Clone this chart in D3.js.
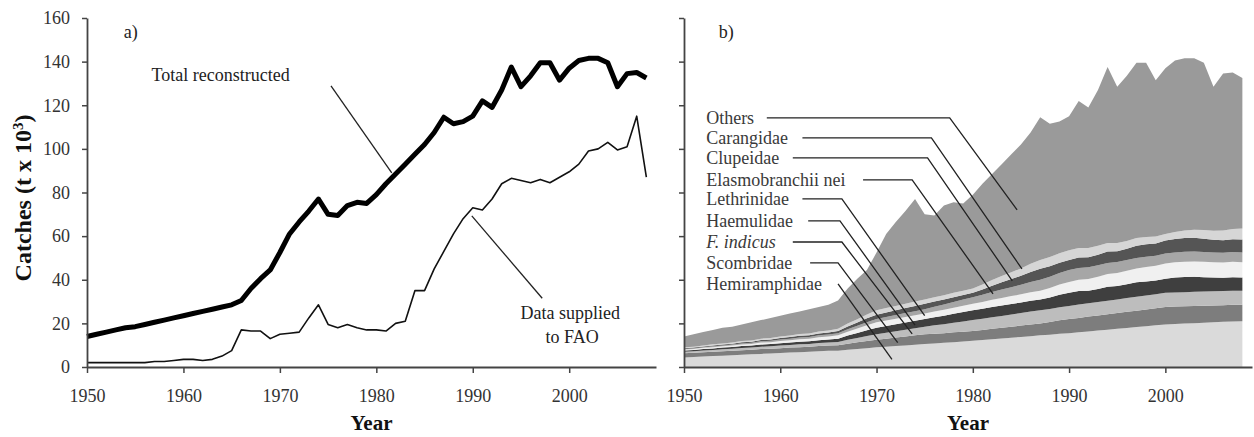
<!DOCTYPE html>
<html>
<head>
<meta charset="utf-8">
<script src="https://cdn.jsdelivr.net/npm/d3@7"></script>
<style>
  body { margin: 0; background: #fff; }
  svg { display: block; }
  svg text { font-family: "Liberation Serif", "Times New Roman", serif; }
</style>
</head>
<body>
<svg width="1254" height="437"></svg>
<script>
// ---- data (t x 10^3) ----
const years = [1950, 1951, 1952, 1953, 1954, 1955, 1956, 1957, 1958, 1959,
  1960, 1961, 1962, 1963, 1964, 1965, 1966, 1967, 1968, 1969,
  1970, 1971, 1972, 1973, 1974, 1975, 1976, 1977, 1978, 1979,
  1980, 1981, 1982, 1983, 1984, 1985, 1986, 1987, 1988, 1989,
  1990, 1991, 1992, 1993, 1994, 1995, 1996, 1997, 1998, 1999,
  2000, 2001, 2002, 2003, 2004, 2005, 2006, 2007, 2008];

const totalReconstructed = [14, 15, 16, 17, 18, 18.5, 19.5, 20.5, 21.5, 22.5,
  23.5, 24.5, 25.5, 26.5, 27.5, 28.5, 30.5, 36, 40.5, 44.5,
  52.5, 61, 66.5, 71.5, 77, 70, 69.5, 74, 75.5, 75,
  79, 84, 88.5, 93, 97.5, 102, 107.5, 114.5, 111.5, 112.5,
  115, 122, 119, 127, 137.5, 128.5, 133.5, 139.5, 139.5, 131.5,
  137, 140.5, 141.5, 141.5, 139.5, 128.5, 134.5, 135, 132.5];

const suppliedToFAO = [2, 2, 2, 2, 2, 2, 2, 2.5, 2.5, 3,
  3.5, 3.5, 3, 3.5, 5, 7.5, 17, 16.5, 16.5, 13,
  15, 15.5, 16, 22.5, 28.5, 19.5, 18, 19.5, 18, 17,
  17, 16.5, 20, 21, 35, 35, 45, 53, 61, 68,
  73, 72, 77, 84, 86.5, 85.5, 84.5, 86, 84.5, 87,
  89.5, 93, 99, 100, 103, 99.5, 101, 115, 87];

const hemiramphidae = [4.4, 4.6, 4.8, 5.0, 5.2, 5.4, 5.6, 5.8, 6.0, 6.2,
  6.4, 6.6, 6.8, 7.0, 7.2, 7.4, 7.5, 7.9, 8.3, 8.6,
  9.0, 9.3, 9.6, 9.9, 10.2, 10.5, 10.8, 11.1, 11.4, 11.7,
  12.0, 12.4, 12.7, 13.1, 13.4, 13.8, 14.1, 14.5, 14.8, 15.2,
  15.5, 15.9, 16.3, 16.7, 17.1, 17.5, 17.9, 18.3, 18.7, 19.1,
  19.5, 19.7, 19.9, 20.1, 20.3, 20.5, 20.7, 20.9, 21.0];
const scombridae = [1.9, 1.9, 2.0, 2.0, 2.0, 2.1, 2.1, 2.1, 2.2, 2.2,
  2.2, 2.3, 2.3, 2.3, 2.4, 2.4, 2.5, 2.8, 3.0, 3.3,
  3.5, 3.7, 3.9, 4.1, 4.3, 4.5, 4.5, 4.4, 4.5, 4.5,
  4.5, 4.6, 4.8, 4.9, 5.1, 5.2, 5.4, 5.5, 5.8, 6.2,
  6.5, 6.6, 6.8, 6.9, 7.1, 7.2, 7.4, 7.5, 7.7, 7.8,
  8.0, 8.0, 7.9, 7.9, 7.8, 7.7, 7.6, 7.6, 7.5];
const fIndicus = [0.7, 0.7, 0.8, 0.8, 0.9, 0.9, 1.0, 1.0, 1.1, 1.1,
  1.2, 1.2, 1.3, 1.3, 1.4, 1.4, 1.5, 1.8, 2.0, 2.3,
  2.5, 2.7, 2.9, 3.1, 3.3, 3.5, 3.8, 4.1, 4.4, 4.7,
  5.0, 5.1, 5.3, 5.4, 5.6, 5.7, 5.9, 6.0, 6.0, 6.0,
  6.0, 6.1, 6.1, 6.2, 6.2, 6.3, 6.3, 6.4, 6.4, 6.5,
  6.5, 6.5, 6.5, 6.5, 6.5, 6.5, 6.5, 6.5, 6.5];
const haemulidae = [0.6, 0.6, 0.7, 0.7, 0.8, 0.8, 0.9, 0.9, 1.0, 1.0,
  1.1, 1.1, 1.2, 1.2, 1.3, 1.4, 1.5, 1.9, 2.3, 2.6,
  3.0, 3.1, 3.2, 3.3, 3.4, 3.5, 3.7, 3.9, 4.1, 4.3,
  4.5, 4.6, 4.7, 4.8, 4.8, 4.9, 5.0, 5.0, 5.3, 5.7,
  6.0, 6.2, 5.8, 6.0, 6.4, 6.1, 6.3, 6.6, 6.4, 6.2,
  6.5, 6.8, 7.0, 6.9, 6.6, 6.3, 6.1, 6.2, 6.0];
const lethrinidae = [0.4, 0.5, 0.5, 0.6, 0.6, 0.7, 0.7, 0.8, 0.9, 0.9,
  1.0, 1.1, 1.1, 1.2, 1.3, 1.4, 1.5, 1.8, 2.0, 2.3,
  2.5, 2.5, 2.5, 2.5, 2.5, 2.5, 2.6, 2.7, 2.8, 2.9,
  3.0, 3.1, 3.3, 3.4, 3.6, 3.7, 3.9, 4.0, 4.3, 4.7,
  5.0, 5.2, 5.4, 5.6, 5.8, 6.0, 6.2, 6.4, 6.6, 6.8,
  7.0, 7.0, 7.0, 7.0, 7.0, 7.0, 7.0, 7.0, 7.0];
const elasmobranchii = [0.3, 0.3, 0.3, 0.4, 0.4, 0.4, 0.5, 0.5, 0.6, 0.6,
  0.7, 0.7, 0.8, 0.8, 0.9, 0.9, 1.0, 1.1, 1.3, 1.4,
  1.5, 1.6, 1.7, 1.8, 1.9, 2.0, 2.2, 2.4, 2.6, 2.8,
  3.0, 3.3, 3.6, 3.9, 4.1, 4.4, 4.7, 5.0, 5.2, 5.3,
  5.5, 5.4, 5.3, 5.2, 5.1, 5.0, 4.9, 4.8, 4.7, 4.6,
  4.5, 4.5, 4.5, 4.5, 4.5, 4.5, 4.5, 4.5, 4.5];
const clupeidae = [0.3, 0.3, 0.3, 0.4, 0.4, 0.4, 0.5, 0.5, 0.6, 0.6,
  0.7, 0.7, 0.8, 0.8, 0.9, 0.9, 1.0, 1.3, 1.5, 1.8,
  2.0, 2.1, 2.2, 2.3, 2.4, 2.5, 2.4, 2.3, 2.2, 2.1,
  2.0, 2.4, 2.9, 3.3, 3.7, 4.1, 4.6, 5.0, 4.8, 4.7,
  4.5, 4.8, 4.6, 4.9, 5.3, 5.0, 5.2, 5.6, 5.8, 5.6,
  6.0, 6.2, 6.3, 6.3, 6.1, 5.8, 5.7, 5.9, 6.0];
const carangidae = [0.4, 0.4, 0.4, 0.5, 0.5, 0.5, 0.6, 0.6, 0.6, 0.7,
  0.7, 0.7, 0.8, 0.8, 0.9, 0.9, 1.0, 1.3, 1.5, 1.8,
  2.0, 2.0, 2.0, 2.0, 2.0, 2.0, 2.0, 2.0, 2.0, 2.0,
  2.0, 2.3, 2.6, 2.9, 3.1, 3.4, 3.7, 4.0, 4.2, 4.3,
  4.5, 4.4, 4.2, 4.1, 3.9, 3.8, 3.6, 3.5, 3.3, 3.2,
  3.0, 3.2, 3.5, 3.7, 4.0, 4.2, 4.5, 4.7, 5.0];
const others = [5.0, 5.7, 6.2, 6.6, 7.2, 7.3, 7.6, 8.3, 8.5, 9.2,
  9.5, 10.1, 10.4, 11.1, 11.2, 11.8, 13.0, 16.1, 18.6, 20.4,
  26.5, 34.0, 38.5, 42.5, 47.0, 39.0, 37.5, 41.1, 41.5, 40.0,
  43.0, 46.2, 48.6, 51.3, 54.1, 56.8, 60.2, 65.5, 61.1, 60.4,
  61.5, 67.4, 64.5, 71.4, 80.6, 71.6, 75.7, 80.4, 79.9, 71.7,
  76.0, 78.6, 78.9, 78.6, 76.7, 66.0, 71.9, 71.7, 69.0];

const speciesKeys = ["Hemiramphidae", "Scombridae", "F. indicus", "Haemulidae",
  "Lethrinidae", "Elasmobranchii nei", "Clupeidae", "Carangidae", "Others"];
const speciesSeries = [hemiramphidae, scombridae, fIndicus, haemulidae,
  lethrinidae, elasmobranchii, clupeidae, carangidae, others];
const speciesColors = ["#dadada", "#7d7d7d", "#bdbdbd", "#3f3f3f",
  "#f0f0f0", "#a6a6a6", "#555555", "#d6d6d6", "#9a9a9a"];

const xTicks = [1950, 1960, 1970, 1980, 1990, 2000];
const yTicks = [0, 20, 40, 60, 80, 100, 120, 140, 160];

// label anchor (year, value), leader: start year, corner year, end (year, value)
const legendLabels = [
  { name: "Others", y: 114.2, x0: 1958.6, x1: 1977.6, ex: 1984.6, ev: 72 },
  { name: "Carangidae", y: 105, x0: 1962.3, x1: 1975.7, ex: 1985.1, ev: 45 },
  { name: "Clupeidae", y: 95.9, x0: 1961.3, x1: 1975.3, ex: 1984.1, ev: 39.5 },
  { name: "Elasmobranchii nei", y: 85.8, x0: 1968.6, x1: 1973.7, ex: 1982.1, ev: 33.5 },
  { name: "Lethrinidae", y: 77.1, x0: 1962.3, x1: 1966.4, ex: 1975, ev: 23.5 },
  { name: "Haemulidae", y: 67, x0: 1962.9, x1: 1966.2, ex: 1974, ev: 19.2 },
  { name: "F. indicus", y: 57.3, x0: 1961.3, x1: 1966.4, ex: 1973.7, ev: 15.2 },
  { name: "Scombridae", y: 47.7, x0: 1963.1, x1: 1966, ex: 1972.2, ev: 11.2 },
  { name: "Hemiramphidae", y: 38.1, x0: 1966, x1: 1966, ex: 1971.6, ev: 3.5 }
];

// ---- layout ----
const svg = d3.select("svg");
const yScale = d3.scaleLinear().domain([0, 160]).range([367, 18]);
const xScaleA = d3.scaleLinear().domain([1950, 2009]).range([87, 656]);
const xScaleB = d3.scaleLinear().domain([1950, 2009]).range([684, 1252]);

/*************** panel a ***************/
const gA = svg.append("g");

const lineA = d3.line()
  .x((d, i) => xScaleA(years[i]))
  .y(d => yScale(d));

gA.append("path")
  .attr("d", lineA(suppliedToFAO))
  .attr("fill", "none")
  .attr("stroke", "#111")
  .attr("stroke-width", 1.6)
  .attr("stroke-linejoin", "round");

gA.append("path")
  .attr("d", lineA(totalReconstructed))
  .attr("fill", "none")
  .attr("stroke", "#000")
  .attr("stroke-width", 5)
  .attr("stroke-linejoin", "round");

drawAxes(gA, xScaleA, true);

// annotations
gA.append("text").attr("x", xScaleA(1953.8)).attr("y", yScale(151))
  .attr("font-size", 18).attr("fill", "#222").text("a)");
gA.append("text").attr("x", xScaleA(1956.7)).attr("y", yScale(131))
  .attr("font-size", 18).attr("fill", "#222").text("Total reconstructed");
addLeader(gA, [[xScaleA(1975.3), yScale(128.9)], [xScaleA(1981.6), yScale(89)]]);

gA.append("text").attr("x", xScaleA(2000.1)).attr("y", yScale(22))
  .attr("text-anchor", "middle").attr("font-size", 18).attr("fill", "#222")
  .text("Data supplied");
gA.append("text").attr("x", xScaleA(2000.3)).attr("y", yScale(10.8))
  .attr("text-anchor", "middle").attr("font-size", 18).attr("fill", "#222")
  .text("to FAO");
addLeader(gA, [[xScaleA(1989.9), yScale(69.3)], [xScaleA(1997.2), yScale(31.5)]]);

/*************** panel b ***************/
const gB = svg.append("g");

const rows = years.map((yr, i) => {
  const row = { year: yr };
  speciesKeys.forEach((k, j) => { row[k] = speciesSeries[j][i]; });
  return row;
});
const stacked = d3.stack().keys(speciesKeys)(rows);

const area = d3.area()
  .x(d => xScaleB(d.data.year))
  .y0(d => yScale(d[0]))
  .y1(d => yScale(d[1]));

gB.selectAll("path.layer")
  .data(stacked)
  .enter()
  .append("path")
  .attr("class", "layer")
  .attr("d", area)
  .attr("fill", (d, i) => speciesColors[i]);

drawAxes(gB, xScaleB, false);

gB.append("text").attr("x", xScaleB(1953.6)).attr("y", yScale(151))
  .attr("font-size", 18).attr("fill", "#222").text("b)");

// legend labels with leader lines
legendLabels.forEach(lab => {
  const t = gB.append("text")
    .attr("x", xScaleB(1952.3))
    .attr("y", yScale(lab.y))
    .attr("dy", "0.35em")
    .attr("font-size", 18)
    .attr("fill", "#3a3a3a")
    .text(lab.name);
  if (lab.name === "F. indicus") t.attr("font-style", "italic");
  addLeader(gB, [
    [xScaleB(lab.x0), yScale(lab.y)],
    [xScaleB(lab.x1), yScale(lab.y)],
    [xScaleB(lab.ex), yScale(lab.ev)]
  ]);
});

// y axis title
svg.append("text")
  .attr("transform", `translate(31, 198) rotate(-90)`)
  .attr("text-anchor", "middle")
  .attr("font-size", 24)
  .attr("font-weight", "bold")
  .attr("fill", "#111")
  .html('Catches (t x 10<tspan baseline-shift="super" font-size="15">3</tspan>)');

/********************************************************************/
// Reusable bits
/********************************************************************/
function drawAxes(g, xScale, withLabels) {
  const xAxis = d3.axisBottom(xScale)
    .tickValues(xTicks)
    .tickFormat(d3.format("d"))
    .tickSize(6)
    .tickSizeOuter(0);
  const yAxis = d3.axisLeft(yScale)
    .tickValues(yTicks)
    .tickSize(5)
    .tickSizeOuter(0)
    .tickFormat(withLabels ? d3.format("d") : "");

  const gx = g.append("g")
    .attr("transform", `translate(0, ${yScale(0)})`)
    .call(xAxis);
  const gy = g.append("g")
    .attr("transform", `translate(${xScale(1950)}, 0)`)
    .call(yAxis);

  [gx, gy].forEach(ax => {
    ax.attr("font-family", null);
    ax.select(".domain").attr("stroke", "#444").attr("stroke-width", 1.8);
    ax.selectAll(".tick line").attr("stroke", "#444").attr("stroke-width", 1.5);
    ax.selectAll(".tick text")
      .attr("font-size", 18)
      .attr("fill", "#333");
  });
  gx.selectAll(".tick text").attr("dy", "1.45em");
  gy.selectAll(".tick text").attr("x", -17);

  g.append("text")
    .attr("x", (xScale.range()[0] + xScale.range()[1]) / 2)
    .attr("y", 430)
    .attr("text-anchor", "middle")
    .attr("font-size", 21)
    .attr("font-weight", "bold")
    .attr("fill", "#111")
    .text("Year");
}

function addLeader(g, pts) {
  g.append("path")
    .attr("d", d3.line()(pts))
    .attr("fill", "none")
    .attr("stroke", "#222")
    .attr("stroke-width", 1.3);
}
</script>
</body>
</html>
